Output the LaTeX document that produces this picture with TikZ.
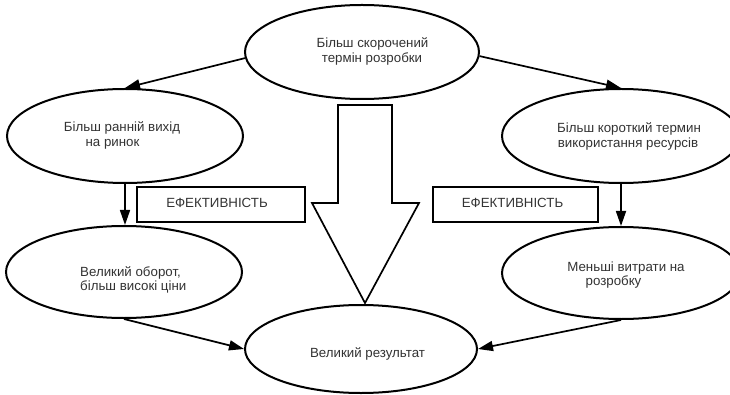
\documentclass[tikz,border=0pt]{standalone}
\usepackage{fontspec}
\setmainfont{Liberation Sans}
\usetikzlibrary{shapes.geometric,arrows.meta}
\begin{document}
\begin{tikzpicture}[x=1pt,y=-1pt,
  oval/.style={draw=black,line width=2pt,ellipse,inner sep=0pt,fill=white},
  effbox/.style={draw=black,line width=2pt,rectangle,inner sep=0pt,minimum width=168pt,minimum height=35pt},
  lbl/.style={anchor=base,inner sep=0pt,text=black!80,font=\fontsize{13.3}{15}\selectfont},
  arr/.style={line width=1.7pt,-{Triangle[length=15pt,width=10pt]}},
  bigarrow/.style={draw=black,line width=1.7pt,fill=white,line join=miter}]
\useasboundingbox (0,0) rectangle (730,395);

% ellipses
\node[oval,minimum width=234pt,minimum height=94pt] (top) at (362,52) {};
\node[oval,minimum width=236pt,minimum height=94pt] (lu) at (125,136) {};
\node[oval,minimum width=238pt,minimum height=94pt] (ru) at (621,136) {};
\node[oval,minimum width=236pt,minimum height=92pt] (ll) at (124,272) {};
\node[oval,minimum width=238pt,minimum height=92pt] (rl) at (621,273) {};
\node[oval,minimum width=232pt,minimum height=88pt] (bot) at (361,349) {};

% efficiency boxes
\node[effbox] (lbox) at (221,205) {};
\node[effbox,minimum width=165pt] (rbox) at (515.5,205) {};

% central broad arrow
\draw[bigarrow] (338,105) -- (392,105) -- (392,203) -- (419,203) -- (365,303)
  -- (312,203) -- (338,203) -- cycle;

% connectors
\draw[arr] (top.183) -- (lu.north);
\draw[arr] (top.-2) -- (ru.north);
\draw[arr] (lu.south) -- (lu.south |- ll.north);
\draw[arr] (ru.south) -- (ru.south |- rl.north);
\draw[arr] (ll.south) -- (bot.west);
\draw[arr] (rl.south) -- (bot.east);

% texts
\node[lbl] (t1a) at (372.5,48) {Більш скорочений};
\node[lbl] (t1b) at (372,63) {термін розробки};
\node[lbl] (t2a) at (122,132) {Більш ранній вихід};
\node[lbl] (t2b) at (112.5,147) {на ринок};
\node[lbl] (t3a) at (629,133) {Більш короткий термин};
\node[lbl] (t3b) at (628,148) {використання ресурсів};
\node[lbl,anchor=base west] (t4a) at (80,276) {Великий оборот,};
\node[lbl,anchor=base west] (t4b) at (80,290) {більш високі ціни};
\node[lbl] (t5a) at (626,271) {Меньші витрати на};
\node[lbl] (t5b) at (613.5,285) {розробку};
\node[lbl] (t6) at (367.5,357) {Великий результат};
\node[lbl] (t7) at (217,208) {ЕФЕКТИВНІСТЬ};
\node[lbl] (t8) at (512.5,208) {ЕФЕКТИВНІСТЬ};
\end{tikzpicture}
\end{document}
